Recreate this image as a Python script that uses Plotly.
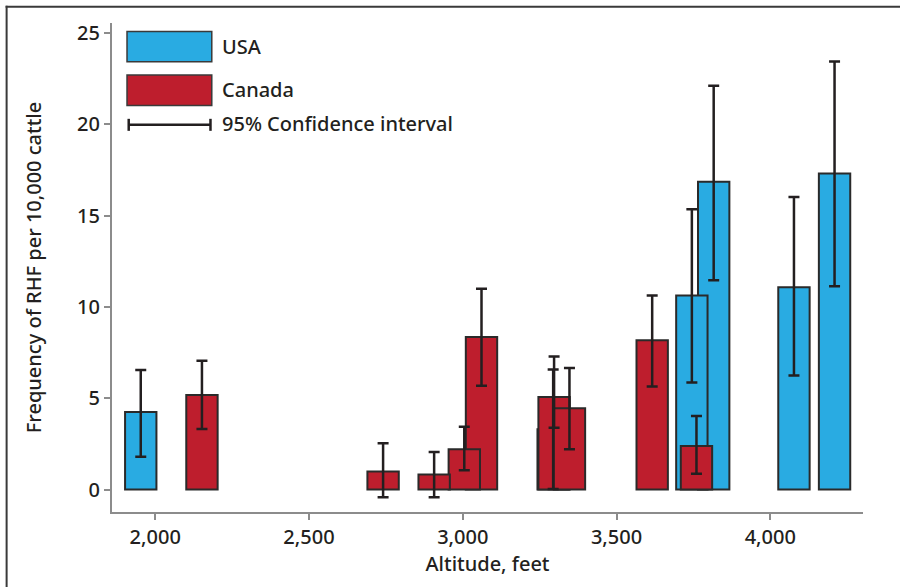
import plotly.graph_objects as go

# ---------------- data ----------------
usa_alt = [1953, 3745, 3816, 4077, 4209]
usa_val = [4.25, 10.62, 16.85, 11.08, 17.31]
usa_lo = [1.79, 5.86, 11.46, 6.24, 11.13]
usa_hi = [6.55, 15.35, 22.12, 16.02, 23.44]

can_alt = [2152, 2741, 2907, 3005, 3061, 3294, 3297, 3347, 3616, 3760]
can_val = [5.18, 0.99, 0.82, 2.20, 8.35, 3.30, 5.07, 4.45, 8.18, 2.38]
can_lo = [3.31, -0.42, -0.42, 1.06, 5.69, 0.03, 3.38, 2.21, 5.64, 0.86]
can_hi = [7.05, 2.54, 2.05, 3.44, 11.00, 6.57, 7.29, 6.66, 10.62, 4.03]

x_ticks = [2000, 2500, 3000, 3500, 4000]
y_ticks = [0, 5, 10, 15, 20, 25]

# ---------------- styling ----------------
W, H = 900, 587
L, R, T, B = 112.3, 862.7, 23.3, 511.7
BLUE = "#29abe2"
RED = "#be1e2d"
INK = "#231f20"
AXIS = "#8c8c8c"
FONT = "Noto Sans"
BAR_W = 102

bars = []
for a, v in zip(usa_alt, usa_val):
    bars.append(("USA", a, v))
for a, v in zip(can_alt, can_val):
    bars.append(("Canada", a, v))

# draw order: the fully covered bar first, then tallest to shortest
covered = ("Canada", 3294)
order = sorted(bars, key=lambda b: (0 if (b[0], b[1]) == covered else 1, -b[2]))

fig = go.Figure()
for country, a, v in order:
    fig.add_trace(go.Bar(
        x=[a], y=[v], width=[BAR_W],
        marker=dict(color=BLUE if country == "USA" else RED,
                    line=dict(color="#2a2a2a", width=2)),
        showlegend=False, hoverinfo="skip",
    ))

# confidence intervals drawn above every bar
for alt, val, lo, hi in [(usa_alt, usa_val, usa_lo, usa_hi), (can_alt, can_val, can_lo, can_hi)]:
    fig.add_trace(go.Scatter(
        x=alt, y=val, mode="markers",
        marker=dict(size=1, opacity=0),
        error_y=dict(type="data", symmetric=False,
                     array=[h - v for h, v in zip(hi, val)],
                     arrayminus=[v - l for v, l in zip(val, lo)],
                     color=INK, thickness=2.5, width=5.5),
        showlegend=False, hoverinfo="skip",
    ))


def px(xp):
    return (xp - L) / (R - L)


def py(yp):
    return (B - yp) / (B - T)


shapes = [
    # frame lines (top and left)
    dict(type="line", xref="paper", yref="paper", x0=px(6), x1=px(900), y0=py(7), y1=py(7),
         line=dict(color="#3a3a3a", width=2)),
    dict(type="line", xref="paper", yref="paper", x0=px(7), x1=px(7), y0=py(6), y1=py(590),
         line=dict(color="#3a3a3a", width=2)),
    # legend boxes
    dict(type="rect", xref="paper", yref="paper", x0=px(127.3), x1=px(212), y0=py(62), y1=py(31.7),
         fillcolor=BLUE, line=dict(color="#3a3a3a", width=1.5)),
    dict(type="rect", xref="paper", yref="paper", x0=px(127.3), x1=px(212), y0=py(105.7), y1=py(75.3),
         fillcolor=RED, line=dict(color="#3a3a3a", width=1.5)),
    # confidence interval legend symbol
    dict(type="line", xref="paper", yref="paper", x0=px(129), x1=px(210.7), y0=py(125), y1=py(125),
         line=dict(color=INK, width=2.5)),
    dict(type="line", xref="paper", yref="paper", x0=px(129), x1=px(129), y0=py(119), y1=py(131),
         line=dict(color=INK, width=2.5)),
    dict(type="line", xref="paper", yref="paper", x0=px(210.7), x1=px(210.7), y0=py(119), y1=py(131),
         line=dict(color=INK, width=2.5)),
]

LEG_FONT = dict(family=FONT, size=20, color=INK, weight=500)
annotations = [
    dict(text="USA", xref="paper", yref="paper", x=px(220), y=py(46.7),
         xanchor="left", yanchor="middle", showarrow=False, font=LEG_FONT),
    dict(text="Canada", xref="paper", yref="paper", x=px(220), y=py(89.3),
         xanchor="left", yanchor="middle", showarrow=False, font=LEG_FONT),
    dict(text="95% Confidence interval", xref="paper", yref="paper", x=px(220), y=py(124),
         xanchor="left", yanchor="middle", showarrow=False, font=LEG_FONT),
]

TXT = dict(size=20, color=INK, weight=500)
fig.update_layout(
    width=W, height=H,
    margin=dict(l=L, r=W - R, t=T, b=H - B, pad=0),
    paper_bgcolor="white", plot_bgcolor="white",
    barmode="overlay",
    font=dict(family=FONT, size=20, color=INK),
    shapes=shapes, annotations=annotations,
    xaxis=dict(range=[1859.5, 4301.5], tickvals=x_ticks,
               ticktext=[f"{v:,}" for v in x_ticks],
               showgrid=False, zeroline=False, showline=True,
               linecolor=AXIS, linewidth=2, ticks="outside", ticklen=6,
               tickcolor=AXIS, tickwidth=2, tickfont=TXT,
               title=dict(text="Altitude, feet", font=TXT, standoff=8)),
    yaxis=dict(range=[-1.23, 25.55], tickvals=y_ticks,
               showgrid=False, zeroline=False, showline=True,
               linecolor=AXIS, linewidth=2, ticks="outside", ticklen=6,
               tickcolor=AXIS, tickwidth=2, tickfont=TXT,
               title=dict(text="Frequency of RHF per 10,000 cattle", font=TXT, standoff=30)),
)

fig.write_html("out.html",
               config={"displayModeBar": False, "staticPlot": True},
               post_script="document.body.style.margin='0';document.body.style.overflow='hidden';")
